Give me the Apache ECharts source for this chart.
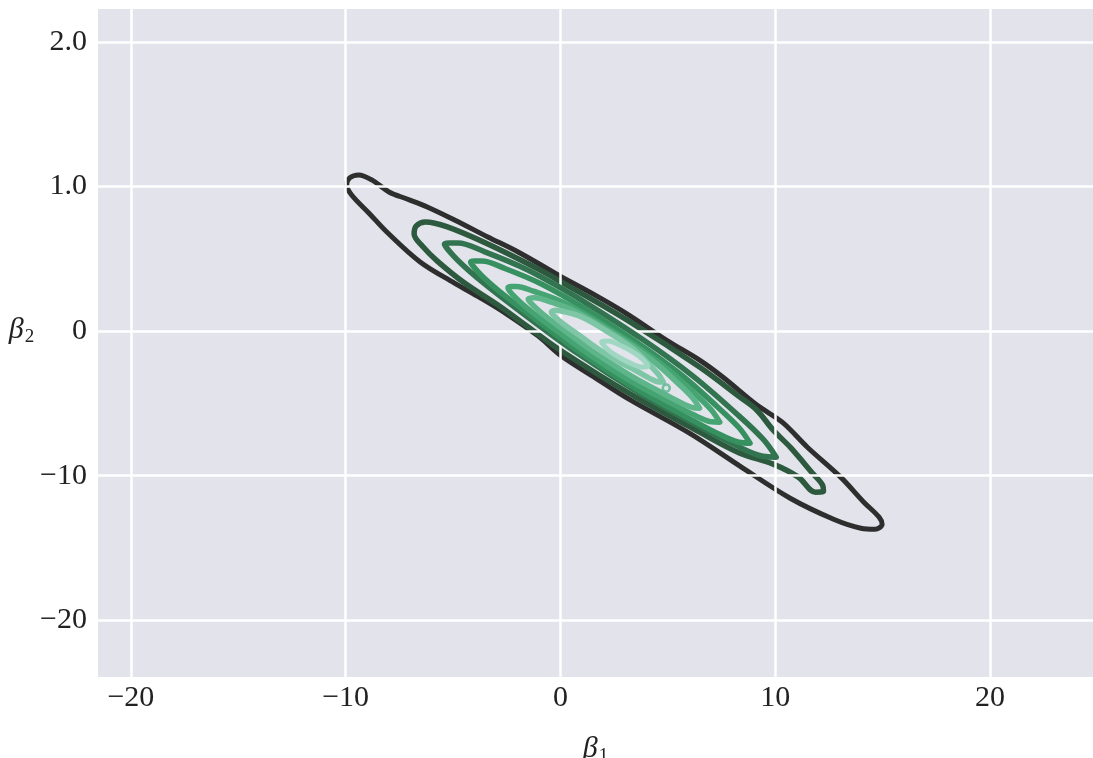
<!DOCTYPE html>
<html><head><meta charset="utf-8">
<script src="https://cdn.jsdelivr.net/npm/echarts@6/dist/echarts.min.js"></script>
<style>html,body{margin:0;padding:0;background:#fff}#c{width:1093px;height:758px}</style>
</head><body><div id="c"></div>
<script>
// Tick values and labels (as printed on the reference)
const xTicks = [-20, -10, 0, 10, 20];
const xTickLabels = ['\u221220', '\u221210', '0', '10', '20'];
const yTicks = [20, 10, 0, -10, -20];
const yTickLabels = ['2.0', '1.0', '0', '\u221210', '\u221220'];

// KDE contour levels (beta1, beta2), outermost first
const level1 = [[0.05,3.74],[1.78,2.35],[3.19,1.11],[4.93,-0.62],[6.48,-2.01],[7.56,-3.18],[9.15,-5.12],[10.33,-6.30],[11.50,-8.03],[13.05,-10.10],[14.13,-11.83],[14.84,-12.87],[14.98,-13.36],[14.65,-13.70],[13.99,-13.63],[12.72,-13.01],[10.70,-11.56],[8.36,-9.34],[6.01,-7.06],[3.19,-4.71],[1.64,-3.25],[0.05,-1.73],[-1.03,-0.35],[-2.58,1.25],[-3.71,2.28],[-4.93,3.32],[-6.53,4.78],[-8.08,6.85],[-8.92,8.17],[-9.72,9.41],[-9.95,10.10],[-9.81,10.59],[-9.39,10.80],[-8.78,10.45],[-7.98,9.62],[-7.14,9.13],[-6.20,8.58],[-4.93,7.68],[-3.38,6.51],[-1.97,5.47]];
const level2 = [[0.05,3.39],[3.19,0.69],[6.48,-2.49],[8.36,-4.57],[9.15,-5.47],[9.91,-6.85],[10.70,-8.03],[11.74,-9.83],[12.21,-10.66],[12.25,-11.07],[11.88,-11.14],[11.08,-10.10],[9.91,-9.20],[8.36,-8.44],[6.48,-6.99],[3.19,-4.29],[0.05,-1.38],[-1.50,0.28],[-2.91,1.80],[-4.46,3.32],[-5.73,4.84],[-6.43,5.88],[-6.81,6.71],[-6.71,7.27],[-6.29,7.54],[-5.26,7.20],[-3.38,6.02],[-1.03,4.29]];
const level3 = [[0.78,2.33],[3.87,-0.62],[6.19,-3.13],[8.19,-5.70],[9.43,-7.46],[10.05,-8.72],[9.43,-8.66],[8.19,-7.92],[6.19,-6.38],[3.87,-4.47],[0.78,-1.52],[-1.54,0.99],[-3.54,3.28],[-4.78,4.90],[-5.40,6.02],[-4.78,6.09],[-3.54,5.49],[-1.54,4.24]];
const level4 = [[1.02,1.67],[3.62,-0.84],[5.58,-2.97],[7.27,-5.18],[8.31,-6.67],[8.83,-7.75],[8.31,-7.69],[7.27,-7.04],[5.58,-5.71],[3.62,-4.09],[1.02,-1.58],[-0.93,0.55],[-2.62,2.48],[-3.66,3.83],[-4.18,4.78],[-3.66,4.85],[-2.62,4.35],[-0.93,3.29]];
const level5 = [[1.50,0.87],[3.47,-0.98],[4.95,-2.58],[6.23,-4.28],[7.02,-5.44],[7.42,-6.30],[7.02,-6.27],[6.23,-5.81],[4.95,-4.82],[3.47,-3.64],[1.50,-1.79],[0.02,-0.19],[-1.26,1.24],[-2.05,2.26],[-2.44,2.98],[-2.05,3.09],[-1.26,2.76],[0.02,2.06]];
const level6 = [[1.69,0.54],[3.29,-0.97],[4.48,-2.27],[5.52,-3.68],[6.16,-4.63],[6.48,-5.33],[6.16,-5.29],[5.52,-4.89],[4.48,-4.07],[3.29,-3.10],[1.69,-1.59],[0.49,-0.29],[-0.54,0.84],[-1.18,1.65],[-1.50,2.21],[-1.18,2.31],[-0.54,2.06],[0.49,1.51]];
const level7 = [[1.66,0.45],[2.70,-0.52],[3.49,-1.37],[4.16,-2.35],[4.58,-3.02],[4.79,-3.53],[4.58,-3.52],[4.16,-3.27],[3.49,-2.71],[2.70,-2.11],[1.66,-1.14],[0.88,-0.29],[0.20,0.42],[-0.22,0.94],[-0.42,1.31],[-0.22,1.44],[0.20,1.33],[0.88,1.05]];
const level8 = [[3.00,-1.14],[3.33,-1.41],[3.76,-1.85],[4.08,-2.42],[3.76,-2.49],[3.33,-2.27],[3.00,-2.04],[2.68,-1.77],[2.25,-1.33],[1.92,-0.76],[2.25,-0.69],[2.68,-0.91]];
const peak = [[4.93,-3.94]];

const contours = [level1, level2, level3, level4, level5, level6, level7, level8];
const levelColors = ['#2e2e2e','#2d5a3e','#31744f','#37905f','#45a472','#5fb58a','#7ec6a6','#9fd7c3'];
const levelWidths = [5, 5.5, 5.5, 5.5, 5.5, 5.5, 5.5, 5];

const FONT = "'Liberation Serif', 'Times New Roman', serif";
const chart = echarts.init(document.getElementById('c'), null, {renderer: 'canvas'});

const nameRich = {
  b: {fontFamily: FONT, fontStyle: 'italic', fontSize: 30, color: '#222', lineHeight: 34},
  s: {fontFamily: FONT, fontSize: 19, color: '#222', lineHeight: 34, padding: [14, 0, 0, 1]}
};

const gridSeries = {
  type: 'line', data: [], silent: true, z: 1,
  markLine: {
    silent: true, animation: false, symbol: ['none', 'none'], label: {show: false},
    lineStyle: {color: '#ffffff', width: 2.5, type: 'solid'},
    data: xTicks.map(v => ({xAxis: v})).concat(yTicks.map(v => ({yAxis: v})))
  }
};

const contourSeries = contours.map((pts, i) => ({
  type: 'line', data: pts.concat([pts[0]]), smooth: 0.35, symbol: 'none', showSymbol: false,
  silent: true, z: 3 + i,
  lineStyle: {color: levelColors[i], width: levelWidths[i], cap: 'round', join: 'round'}
}));

const peakSeries = {
  type: 'scatter', data: peak, symbol: 'circle', symbolSize: 7, silent: true, z: 20,
  itemStyle: {color: '#cfeae1', borderColor: '#5fb08e', borderWidth: 2.5}
};

chart.setOption({
  animation: false,
  grid: {left: 98, right: 0, top: 9, bottom: 81, show: true, backgroundColor: '#e2e3eb', borderWidth: 0,
         containLabel: false, outerBoundsMode: 'none'},
  xAxis: {
    type: 'value', min: -21.53, max: 24.80,
    axisLine: {show: false}, axisTick: {show: false}, splitLine: {show: false},
    axisLabel: {
      customValues: xTicks,
      formatter: v => { const k = xTicks.indexOf(v); return k >= 0 ? xTickLabels[k] : ''; },
      fontFamily: FONT, fontSize: 30, color: '#222', margin: 6, lineHeight: 30
    },
    name: '{b|\u03b2}{s|1}', nameLocation: 'middle', nameGap: 55,
    nameTextStyle: {rich: nameRich}
  },
  yAxis: {
    type: 'value', min: -23.92, max: 22.27,
    axisLine: {show: false}, axisTick: {show: false}, splitLine: {show: false},
    axisLabel: {
      customValues: yTicks,
      formatter: v => { const k = yTicks.indexOf(v); return k >= 0 ? yTickLabels[k] : ''; },
      fontFamily: FONT, fontSize: 30, color: '#222', margin: 11
    },
    name: '{b|\u03b2}{s|2}', nameLocation: 'middle', nameRotate: 0, nameGap: 61,
    nameTextStyle: {rich: nameRich, padding: [0, 0, 26, 0]}
  },
  series: [gridSeries].concat(contourSeries, [peakSeries])
});
</script>
</body></html>
